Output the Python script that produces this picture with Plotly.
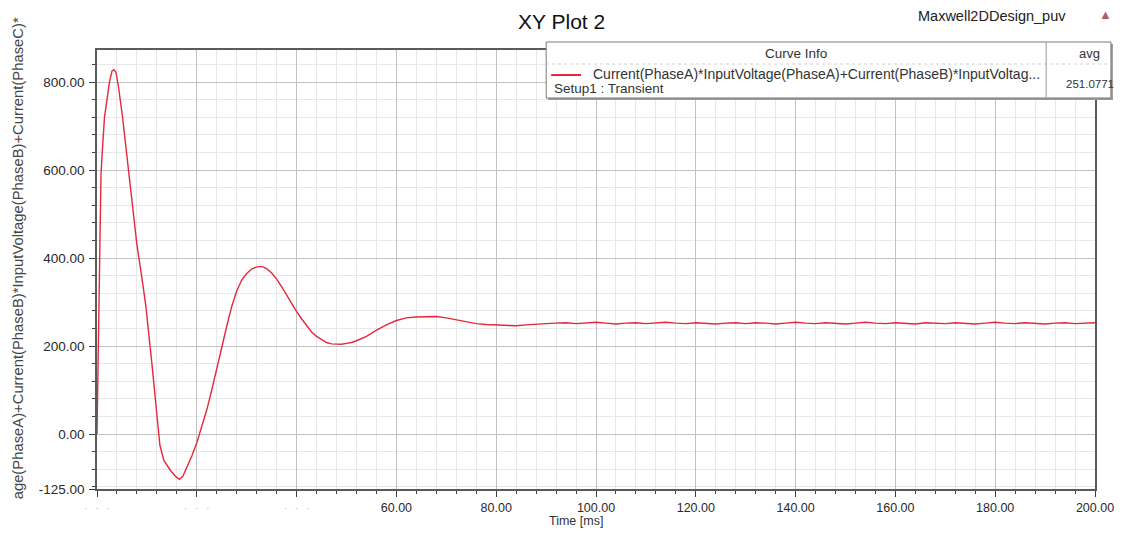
import plotly.graph_objects as go

# ---------------- data ----------------
early_time_ms = [0, 0.2, 0.5, 0.8, 1.1, 1.5, 2.0, 2.5, 3.0, 3.4, 3.8, 4.3, 5.1, 6.0, 7.1,
                 8.0, 9.0, 9.8, 11.0, 12.1, 12.6, 13.4, 14.8, 15.8, 16.5, 17.2, 18.0,
                 19.0, 20.0, 21.0, 22.0, 23.0, 24.0, 25.0, 26.0, 27.0, 28.0, 29.0, 30.0,
                 31.0, 32.0, 33.0, 34.0, 35.0, 36.0, 37.0, 38.0, 39.0, 40.0, 41.0, 42.0,
                 43.0, 44.0, 45.0, 46.0, 47.0, 48.0, 49.0, 50.0, 51.0, 52.0, 54.0, 56.0,
                 58.0, 60.0, 62.0, 64.0, 66.0, 68.0, 70.0, 72.0, 74.0, 76.0, 78.0, 80.0,
                 82.0, 84.0, 86.0, 88.0, 90.0]
early_power = [0, 150, 440, 590, 650, 720, 760, 800, 825, 828, 822, 790, 722, 630, 517,
               430, 355, 290, 160, 40, -25, -60, -84, -97, -103, -96, -77,
               -50, -20, 15, 55, 100, 150, 200, 245, 290, 325, 350, 365,
               375, 380, 381, 376, 366, 352, 335, 315, 296, 278, 262, 246,
               232, 222, 214, 208, 205, 204, 204, 206, 208, 212, 222, 236,
               248, 258, 264, 266, 267, 267, 264, 260, 255, 251, 249, 248,
               246, 246, 248, 250, 251]
late_time_ms = [92, 94, 96, 98, 100, 102, 104, 106, 108, 110, 112, 114, 116, 118, 120,
                122, 124, 126, 128, 130, 132, 134, 136, 138, 140, 142, 144, 146, 148,
                150, 152, 154, 156, 158, 160, 162, 164, 166, 168, 170, 172, 174, 176,
                178, 180, 182, 184, 186, 188, 190, 192, 194, 196, 198, 200]
late_power = [252, 253, 251, 252, 254, 252, 250, 252, 253, 251,
              252, 254, 252, 251, 253, 252, 250, 252, 253, 251,
              253, 252, 250, 252, 254, 252, 251, 253, 252, 250,
              252, 254, 252, 251, 253, 252, 250, 253, 252, 251,
              253, 252, 250, 252, 254, 252, 251, 253, 252, 250,
              252, 253, 251, 252, 253]

time_ms = early_time_ms + late_time_ms
power = early_power + late_power

x_tick_vals = [0, 20, 40, 60, 80, 100, 120, 140, 160, 180, 200]
x_tick_text = ["0.00", "20.00", "40.00", "60.00", "80.00", "100.00", "120.00",
               "140.00", "160.00", "180.00", "200.00"]
y_tick_vals = [-125, 0, 200, 400, 600, 800]
y_tick_text = ["-125.00", "0.00", "200.00", "400.00", "600.00", "800.00"]

title_text = "XY Plot 2"
design_name = "Maxwell2DDesign_puv"
x_title = "Time [ms]"
# the part of the (very long) y-axis title that is visible in the reference
y_title = "age(PhaseA)+Current(PhaseB)*InputVoltage(PhaseB)+Current(PhaseC)*"
legend_header = "Curve Info"
legend_stat_name = "avg"
legend_curve = "Current(PhaseA)*InputVoltage(PhaseA)+Current(PhaseB)*InputVoltag..."
legend_setup = "Setup1 : Transient"
legend_avg = "251.0771"

# ---------------- layout geometry (absolute window pixels) ----------------
WIN_W, WIN_H = 1126, 537
OFF = 8                      # default page body margin
FIG_W, FIG_H = WIN_W - OFF, WIN_H - OFF
L, R, T, B = 97, 1099, 50, 489   # plot area in window pixels
FONT = "Liberation Sans, Arial, sans-serif"


def px(x):
    return (x - L) / (R - L)


def py(y):
    return (B - y) / (B - T)


# faint, unreadable labels for the first three ticks (as in the reference)
faint = "<span style='color:#c9c9c9'>·  ·  ·</span>"
x_tick_shown = [faint if v < 60 else t for v, t in zip(x_tick_vals, x_tick_text)]

fig = go.Figure()
fig.add_trace(go.Scatter(x=time_ms, y=power, mode="lines",
                         line=dict(color="#e5283c", width=1.4),
                         showlegend=False, hoverinfo="x+y"))

axis_common = dict(
    ticks="outside", ticklen=6, tickwidth=1, tickcolor="#3c3c3c",
    showline=True, linecolor="#5a5a5a", linewidth=1.5, mirror=True,
    showgrid=True, gridcolor="#c2c2c2", gridwidth=1, zeroline=False,
)

fig.update_layout(
    width=FIG_W, height=FIG_H,
    margin=dict(l=L - OFF, r=FIG_W - (R - OFF), t=T - OFF, b=FIG_H - (B - OFF)),
    paper_bgcolor="white", plot_bgcolor="white",
    xaxis=dict(range=[0, 200], tickmode="array", tickvals=x_tick_vals,
               ticktext=x_tick_shown,
               tickfont=dict(family=FONT, size=12.5, color="#2a2a2a"),
               minor=dict(tickmode="linear", tick0=0, dtick=4, ticks="outside",
                          ticklen=3, tickcolor="#3c3c3c", showgrid=True,
                          gridcolor="#e8e8e8"),
               **axis_common),
    yaxis=dict(range=[-125, 873], tickmode="array", tickvals=y_tick_vals,
               ticktext=y_tick_text, ticklabelstandoff=2,
               tickfont=dict(family=FONT, size=13.5, color="#2a2a2a"),
               minor=dict(tickmode="linear", tick0=0, dtick=40, ticks="outside",
                          ticklen=3, tickcolor="#3c3c3c", showgrid=True,
                          gridcolor="#e8e8e8"),
               **axis_common),
)

annotations = [
    dict(text=title_text, x=px(563), y=py(8), yanchor="top",
         font=dict(family=FONT, size=21, color="#111")),
    dict(text=design_name, x=px(996), y=py(16), font=dict(family=FONT, size=14.5, color="#222")),
    dict(text="▲", x=px(1110), y=py(15), font=dict(family=FONT, size=13, color="#b06060")),
    dict(text=x_title, x=px(578), y=py(521), font=dict(family=FONT, size=12.5, color="#333")),
    dict(text=y_title, x=px(18), y=py(258), textangle=-90,
         font=dict(family=FONT, size=14.8, color="#444")),
    dict(text=legend_header, x=px(799), y=py(53), font=dict(family=FONT, size=13.5, color="#333")),
    dict(text=legend_stat_name, x=px(1093), y=py(53), font=dict(family=FONT, size=13, color="#333")),
    dict(text=legend_curve, x=px(593), y=py(74), xanchor="left",
         font=dict(family=FONT, size=14, color="#333")),
    dict(text=legend_setup, x=px(554), y=py(88), xanchor="left",
         font=dict(family=FONT, size=13.5, color="#333")),
    dict(text=legend_avg, x=px(1094), y=py(84), font=dict(family=FONT, size=11.5, color="#333")),
]
for a in annotations:
    a.setdefault("xanchor", "center")
    a.setdefault("yanchor", "middle")
    fig.add_annotation(xref="paper", yref="paper", showarrow=False, **a)

shapes = [
    # shadow
    dict(type="rect", x0=px(550), x1=px(1117), y0=py(100), y1=py(44),
         line=dict(width=0), fillcolor="#9a9a9a"),
    # legend box
    dict(type="rect", x0=px(548), x1=px(1115), y0=py(98), y1=py(42),
         line=dict(color="#7a7a7a", width=1), fillcolor="white"),
    dict(type="line", x0=px(548), x1=px(1115), y0=py(64), y1=py(64),
         line=dict(color="#cfcfcf", width=1, dash="dot")),
    dict(type="line", x0=px(1050), x1=px(1050), y0=py(42), y1=py(98),
         line=dict(color="#9a9a9a", width=1)),
    dict(type="line", x0=px(553), x1=px(583), y0=py(75), y1=py(75),
         line=dict(color="#e5283c", width=2)),
]
for s in shapes:
    fig.add_shape(xref="paper", yref="paper", layer="above", **s)

fig.write_html("out.html")
